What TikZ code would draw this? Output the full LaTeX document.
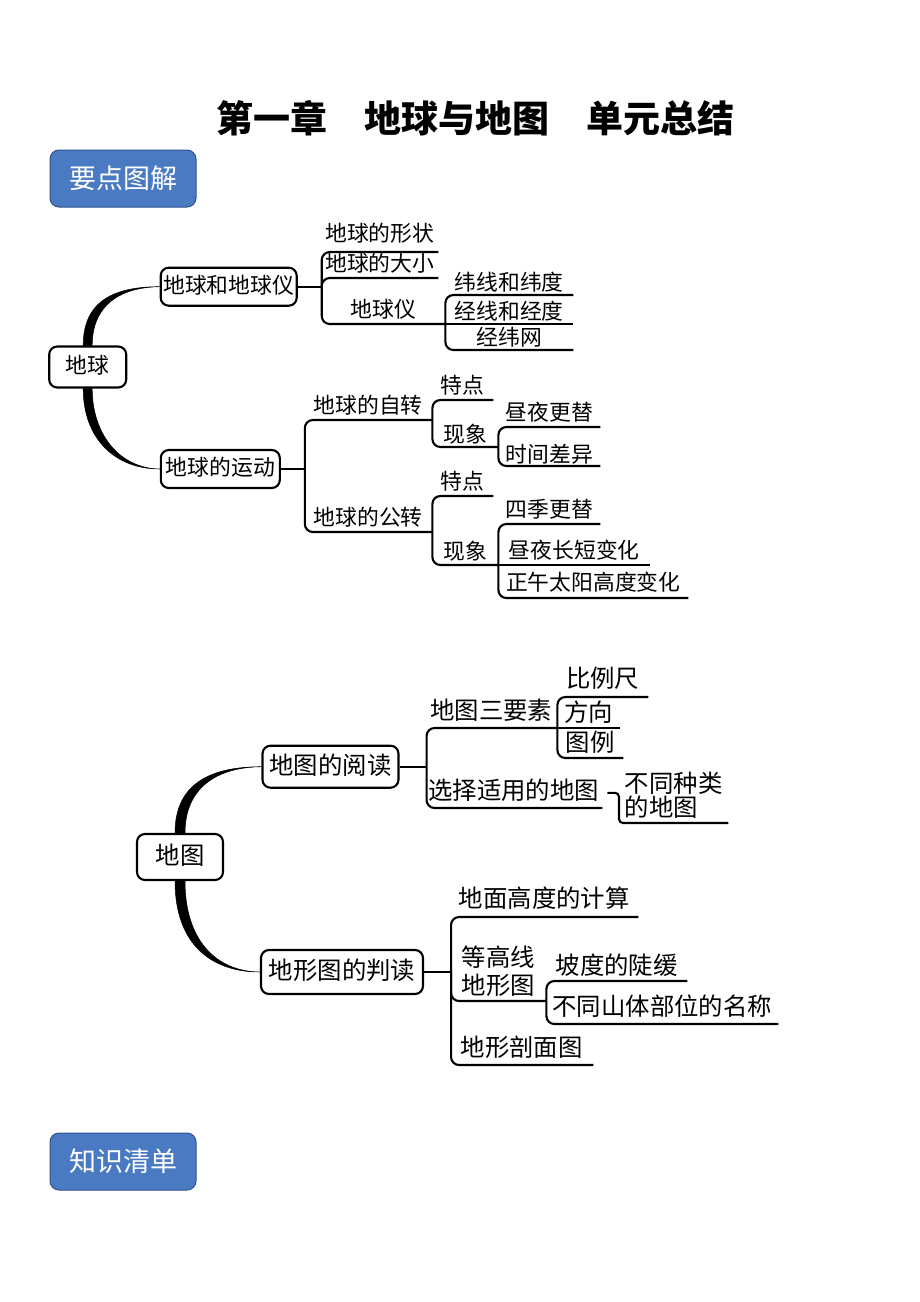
\documentclass[tikz,border=0pt]{standalone}
\usepackage{fontspec}
\setmainfont{Noto Sans CJK SC}
\definecolor{tagblue}{HTML}{4A7BC2}
\definecolor{tagedge}{HTML}{2F528F}
\newcommand\sizeA{\fontsize{21.8}{26}\selectfont}
\newcommand\sizeB{\fontsize{24.4}{28}\selectfont}

\begin{document}
\begin{tikzpicture}
	[x=1pt,y=-1pt,
	topic/.style={draw,line width=2.1pt,rounded corners=8pt,inner sep=0pt},
	leaf/.style={anchor=south west,inner sep=0pt,minimum width=#1},
	link/.style={line width=2.1pt,rounded corners=8pt},
	tag/.style={fill=tagblue,draw=tagedge,line width=1pt,rounded corners=9pt,
		minimum width=146,minimum height=57,text=white,font=\fontsize{27}{30}\selectfont}]
	\useasboundingbox (0,0) rectangle (920,1302);
	\node[font=\fontsize{37}{40}\selectfont\bfseries] (title) at (475,118) {第一章　地球与地图　单元总结};
	\node[tag] (keyfig) at (123,178.5) {要点图解};
	\node[tag] (list) at (123,1161.5) {知识清单};
	% earth
	\begin{scope}[font=\sizeA,every node/.append style={text height=19.6pt,text depth=5.9pt}]
	\node[topic,minimum width=77,minimum height=41] (rootA) at (87.7,367) {地球};
	\node[topic,minimum width=136,minimum height=38] (ballA) at (228.7,286.7) {地球和地球仪};
	\node[topic,minimum width=119,minimum height=38] (moveA) at (220.3,469) {地球的运动};
	\filldraw[line width=0.5pt] ([xshift=-4.5pt]rootA.north) .. controls +(0,-45) and +(-45,0) .. (ballA.west)
		.. controls +(-40,0.6) and +(0,-40) .. ([xshift=4.5pt]rootA.north) -- cycle;
	\filldraw[line width=0.5pt] ([xshift=-4.5pt]rootA.south) .. controls +(0,50) and +(-45,0) .. (moveA.west)
		.. controls +(-40,-0.6) and +(0,46) .. ([xshift=4.5pt]rootA.south) -- cycle;
	\node[leaf=117,text depth=10pt] (shape) at (321,252) {地球的形状};
	\node[leaf=117] (size) at (321,278) {地球的大小};
	\node[leaf=124] (globe) at (321,324) {地球仪};
	\node[leaf=128,text depth=4pt] (wei) at (445,295) {纬线和纬度};
	\node[leaf=128,text depth=4pt] (jing) at (445,324) {经线和经度};
	\node[leaf=128,text depth=4pt] (net) at (445,350) {经纬网};
	\node[leaf=128] (rot) at (304,420) {地球的自转};
	\node[leaf=128] (rev) at (304,532) {地球的公转};
	\node[leaf=61] (ptA) at (432,400) {特点};
	\node[leaf=66,text depth=4pt] (phA) at (432,447) {现象};
	\node[leaf=102] (day) at (498,427) {昼夜更替};
	\node[leaf=102,text depth=3pt] (time) at (498,466) {时间差异};
	\node[leaf=61] (ptB) at (432,496) {特点};
	\node[leaf=66,text depth=5pt] (phB) at (432,565) {现象};
	\node[leaf=102] (season) at (498,524) {四季更替};
	\node[leaf=152] (dlen) at (498,565) {昼夜长短变化};
	\node[leaf=190,text depth=7pt] (noon) at (498,598) {正午太阳高度变化};
	\coordinate (b1) at ([xshift=24pt]ballA.east);
	\coordinate (b2) at (globe.south east);
	\coordinate (b3) at ([xshift=24pt]moveA.east);
	\coordinate (b4) at (rot.south east);
	\coordinate (b5) at (phA.south east);
	\coordinate (b6) at (rev.south east);
	\coordinate (b7) at (phB.south east);
	\draw[link] (ballA.east) -- (b1);
	\foreach \n in {shape,size,globe} \draw[link] (b1) |- (\n.south east);
	\foreach \n in {wei,net} \draw[link] (b2) |- (\n.south east);
	\draw[link] (b2) -- (jing.south east);
	\draw[link] (moveA.east) -- (b3);
	\foreach \n in {rot,rev} \draw[link] (b3) |- (\n.south east);
	\foreach \n in {ptA,phA} \draw[link] (b4) |- (\n.south east);
	\foreach \n in {day,time} \draw[link] (b5) |- (\n.south east);
	\foreach \n in {ptB,phB} \draw[link] (b6) |- (\n.south east);
	\foreach \n in {season,noon} \draw[link] (b7) |- (\n.south east);
	\draw[link] (b7) -- (dlen.south east);
	\end{scope}
	% map
	\begin{scope}[font=\sizeB,every node/.append style={text height=22pt,text depth=6.6pt}]
	\node[topic,minimum width=86,minimum height=46] (rootB) at (180,857) {地图};
	\node[topic,minimum width=136,minimum height=42] (readB) at (330.5,766.7) {地图的阅读};
	\node[topic,minimum width=162,minimum height=44] (terrB) at (342,972) {地形图的判读};
	\filldraw[line width=0.5pt] ([xshift=-5pt]rootB.north) .. controls +(0,-50) and +(-50,0) .. (readB.west)
		.. controls +(-45,0.6) and +(0,-45) .. ([xshift=5pt]rootB.north) -- cycle;
	\filldraw[line width=0.5pt] ([xshift=-5pt]rootB.south) .. controls +(0,62) and +(-50,0) .. (terrB.west)
		.. controls +(-45,-0.6) and +(0,58) .. ([xshift=5pt]rootB.south) -- cycle;
	\node[leaf=132,text depth=8pt] (three) at (425,728) {地图三要素};
	\node[leaf=177,text depth=8pt] (sel) at (425,808) {选择适用的地图};
	\node[leaf=91,text depth=9.6pt] (ratio) at (557,697) {比例尺};
	\node[leaf=63] (dir) at (557,728) {方向};
	\node[leaf=66] (legend) at (557,758) {图例};
	\node[leaf=109] (kind) at (619,823) {\vbox{\baselineskip=24pt\hbox{不同种类}\hbox{的地图}}};
	\node[leaf=188,text depth=9.6pt] (calc) at (450,917) {地面高度的计算};
	\node[leaf=96] (cont) at (450,1001) {\vbox{\hbox{等高线}\hbox{地形图}}};
	\node[leaf=143,text depth=8pt] (prof) at (450,1065) {地形剖面图};
	\node[leaf=141] (slope) at (546,981) {坡度的陡缓};
	\node[leaf=232,text depth=8pt] (part) at (546,1024) {不同山体部位的名称};
	\coordinate (b8) at ([xshift=27pt]readB.east);
	\coordinate (b9) at (three.south east);
	\coordinate (b10) at ([xshift=27pt]terrB.east);
	\coordinate (b11) at (cont.south east);
	\draw[link] (readB.east) -- (b8);
	\foreach \n in {three,sel} \draw[link] (b8) |- (\n.south east);
	\foreach \n in {ratio,legend} \draw[link] (b9) |- (\n.south east);
	\draw[link] (b9) -- (dir.south east);
	\draw[link,rounded corners=4pt] ([xshift=5pt]sel.east) -| (kind.south west) -- (kind.south east);
	\draw[link] (terrB.east) -- (b10);
	\foreach \n in {calc,cont,prof} \draw[link] (b10) |- (\n.south east);
	\foreach \n in {slope,part} \draw[link] (b11) |- (\n.south east);
	\end{scope}
\end{tikzpicture}
\end{document}
